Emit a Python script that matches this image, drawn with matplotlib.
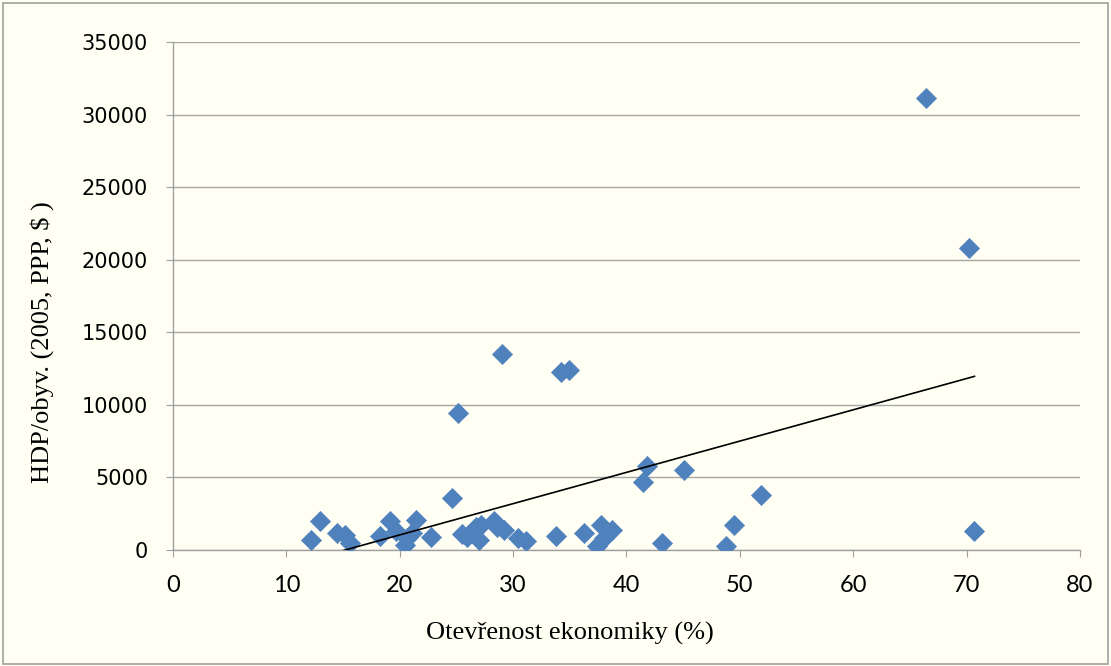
import matplotlib
matplotlib.use("Agg")
import matplotlib.pyplot as plt
import numpy as np
from matplotlib.patches import Rectangle

# openness of economy (%) and GDP per capita (2005, PPP, $)
openness = [12.2, 13.0, 14.5, 15.2, 15.6, 18.3, 19.1, 19.7, 20.5, 20.6,
            21.4, 21.1, 22.8, 24.6, 25.1, 25.5, 25.9, 26.7, 27.0, 27.2,
            28.3, 28.6, 29.0, 29.2, 30.4, 31.1, 33.8, 34.2, 34.9, 36.3,
            37.4, 37.8, 38.0, 38.7, 41.5, 41.8, 43.1, 45.1, 48.8, 49.5,
            51.9, 66.4, 70.2, 70.7]
gdp = [690, 2000, 1200, 1050, 480, 960, 2000, 1300, 330, 840,
       2050, 1150, 920, 3560, 9420, 1130, 900, 1580, 690, 1720,
       2000, 1600, 13480, 1400, 830, 620, 960, 12240, 12400, 1180,
       280, 1720, 820, 1380, 4700, 5790, 480, 5530, 280, 1720,
       3780, 31140, 20810, 1330]

x_ticks = [0, 10, 20, 30, 40, 50, 60, 70, 80]
y_ticks = [0, 5000, 10000, 15000, 20000, 25000, 30000, 35000]

bg = "#fffff4"
fig = plt.figure(figsize=(11.11, 6.66), dpi=100, facecolor=bg)
ax = fig.add_axes([0.1557, 0.1742, 0.8163, 0.7627], facecolor=bg)

ax.scatter(openness, gdp, marker="D", s=105, color="#4f81bd",
           edgecolors="#4f81bd", linewidths=0.5, zorder=3)

# linear trendline (least squares), clipped at y = 0 like Excel
slope, intercept = np.polyfit(openness, gdp, 1)
tx = np.array([min(openness), max(openness)])
ax.plot(tx, slope * tx + intercept, color="black", lw=1.2, zorder=4)

ax.set_xlim(0, 80)
ax.set_ylim(0, 35000)
ax.set_xticks(x_ticks)
ax.set_yticks(y_ticks)
ax.set_xticklabels([str(t) for t in x_ticks], family=["Lato", "DejaVu Sans"], fontsize=17)
ax.set_yticklabels([str(t) for t in y_ticks], family="DejaVu Sans", fontsize=15)

ax.grid(axis="y", color="#a6a6a6", lw=1.0)
ax.set_axisbelow(True)
for s in ["top", "right"]:
    ax.spines[s].set_visible(False)
for s in ["left", "bottom"]:
    ax.spines[s].set_color("#a0a0a0")
    ax.spines[s].set_linewidth(1.0)
ax.tick_params(axis="y", length=5, color="#a0a0a0", pad=13)
ax.tick_params(axis="x", length=5, color="#a0a0a0", pad=13)

ax.set_xlabel("Otevřenost ekonomiky (%)", family="Liberation Serif", fontsize=19)
ax.set_ylabel("HDP/obyv. (2005, PPP, $ )", family="Liberation Serif", fontsize=19)
ax.xaxis.set_label_coords(0.4377, -0.141)
ax.yaxis.set_label_coords(-0.131, 0.409)

fig.patches.append(Rectangle((0.003, 0.003), 0.994, 0.993, transform=fig.transFigure,
                             fill=False, edgecolor="#a0a0a0", lw=1.2))

fig.savefig("out.png", dpi=100, facecolor=bg)
